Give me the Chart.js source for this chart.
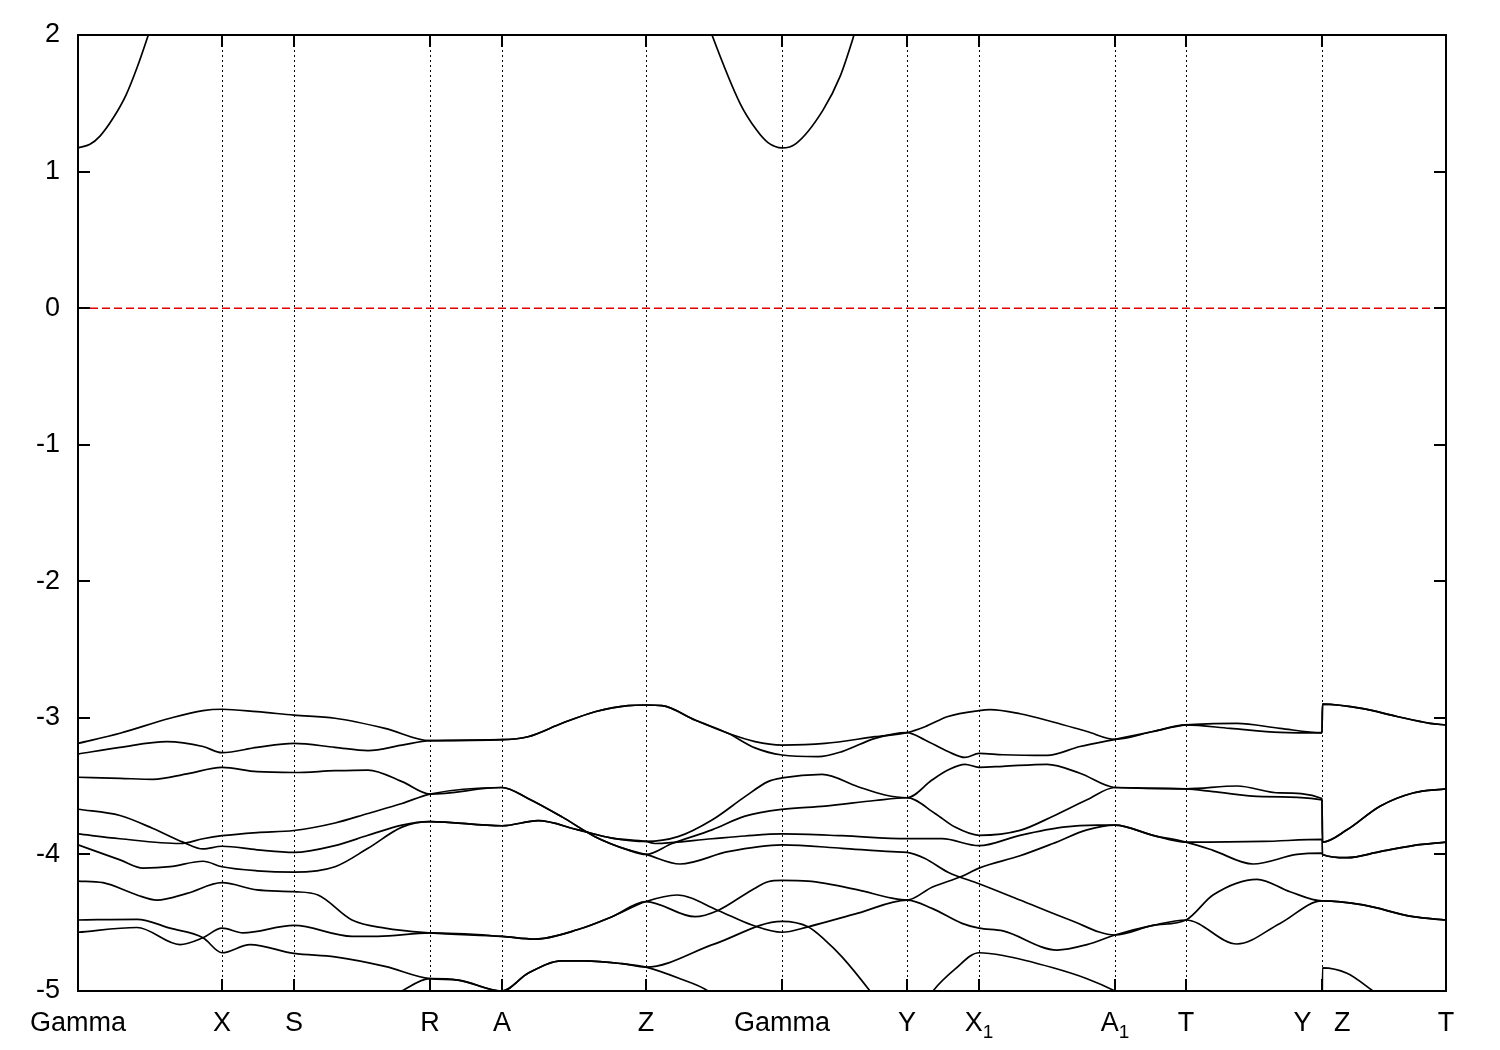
<!DOCTYPE html>
<html>
<head>
<meta charset="utf-8">
<title>Band structure</title>
<script src="https://cdn.jsdelivr.net/npm/chart.js@4.4.0/dist/chart.umd.min.js"></script>
<style>
	body { margin: 0; background: #fff; }
	#cont_graf { width: 1500px; height: 1050px; }
</style>
</head>
<body>
<div id="cont_graf"><canvas id="canvas01" width="1500" height="1050"></canvas></div>
<script>

// high symmetry points along the k path ("_1" = subscript)
const kNodes = [0, 144, 216, 352, 424, 568, 704, 829, 901, 1037, 1108, 1244, 1368];
const kLabels = ['Gamma', 'X', 'S', 'R', 'A', 'Z', 'Gamma', 'Y', 'X_1', 'A_1', 'T', 'Y   Z', 'T'];
const yTicks = [-5, -4, -3, -2, -1, 0, 1, 2];

// conduction band (two visible pieces)
const cband01 = [[0, 1.173], [12, 1.20], [22, 1.26], [35, 1.39], [48, 1.56], [59, 1.76], [70.3, 2.0], [80, 2.22]];
const cband02 = [[615, 2.4], [634, 2.0], [662, 1.50], [679, 1.30], [690, 1.212], [704, 1.173], [718, 1.205], [745, 1.45], [762, 1.695], [776, 2.0], [792, 2.4]];

// valence bands
const vband01 = [[0, -3.187], [42, -3.113], [92, -3.003], [125, -2.947], [144, -2.937], [179, -2.955], [216, -2.98], [257, -3.003], [307, -3.077], [352, -3.167], [424, -3.16], [450, -3.138], [484, -3.04], [517, -2.955], [550, -2.91], [568, -2.906], [584, -2.91], [617, -3.016], [650, -3.113], [677, -3.174], [704, -3.199], [747, -3.187], [797, -3.138], [829, -3.108], [847, -3.065], [870, -2.99], [901, -2.947], [912, -2.94], [942, -2.97], [975, -3.03], [1009, -3.10], [1037, -3.157], [1075, -3.10], [1108, -3.052], [1159, -3.04], [1202, -3.077], [1244, -3.108], [1244.5, -2.90], [1285, -2.933], [1319, -2.99], [1352, -3.04], [1368, -3.052]];
const vband02 = [[0, -3.265], [42, -3.216], [89, -3.174], [125, -3.21], [144, -3.255], [179, -3.216], [216, -3.187], [257, -3.216], [290, -3.24], [324, -3.20], [352, -3.167], [424, -3.16], [450, -3.138], [484, -3.04], [517, -2.955], [550, -2.91], [568, -2.906], [584, -2.91], [617, -3.016], [650, -3.113], [677, -3.22], [704, -3.272], [740, -3.284], [764, -3.247], [797, -3.15], [829, -3.108], [847, -3.162], [870, -3.247], [887, -3.29], [901, -3.26], [925, -3.27], [969, -3.275], [1002, -3.21], [1037, -3.157], [1075, -3.10], [1108, -3.052], [1152, -3.077], [1202, -3.106], [1244, -3.11], [1244.5, -2.90], [1285, -2.933], [1319, -2.99], [1352, -3.04], [1368, -3.052]];
const vband03 = [[0, -3.435], [42, -3.443], [75, -3.45], [109, -3.41], [144, -3.362], [179, -3.394], [216, -3.40], [257, -3.387], [290, -3.382], [324, -3.467], [352, -3.558], [424, -3.51], [450, -3.59], [484, -3.725], [517, -3.87], [550, -3.967], [568, -4.0], [594, -3.92], [634, -3.82], [667, -3.72], [704, -3.67], [747, -3.647], [797, -3.605], [829, -3.585], [857, -3.70], [877, -3.80], [901, -3.86], [942, -3.824], [975, -3.72], [1009, -3.60], [1037, -3.51], [1075, -3.516], [1108, -3.52], [1135, -3.54], [1185, -3.577], [1244, -3.60], [1244.5, -3.91], [1269, -3.82], [1302, -3.647], [1335, -3.55], [1368, -3.52]];
const vband04 = [[0, -3.669], [42, -3.715], [75, -3.81], [105, -3.91], [125, -3.96], [144, -3.94], [179, -3.966], [216, -3.985], [257, -3.935], [290, -3.86], [324, -3.785], [352, -3.76], [424, -3.79], [460, -3.753], [500, -3.82], [534, -3.88], [568, -3.905], [600, -3.87], [634, -3.748], [667, -3.577], [690, -3.467], [704, -3.44], [744, -3.414], [780, -3.504], [807, -3.565], [829, -3.585], [854, -3.455], [870, -3.382], [887, -3.34], [901, -3.362], [925, -3.355], [969, -3.34], [1002, -3.406], [1037, -3.51], [1075, -3.516], [1108, -3.52], [1159, -3.499], [1202, -3.55], [1244, -3.59], [1244.5, -3.91], [1269, -3.82], [1302, -3.647], [1335, -3.55], [1368, -3.52]];
const vband05 = [[0, -3.85], [42, -3.885], [102, -3.92], [125, -3.885], [144, -3.863], [179, -3.84], [216, -3.825], [257, -3.77], [290, -3.70], [324, -3.627], [352, -3.558], [424, -3.51], [450, -3.59], [484, -3.725], [517, -3.87], [550, -3.967], [568, -4.0], [602, -4.07], [650, -3.98], [704, -3.93], [764, -3.955], [814, -3.98], [829, -3.985], [847, -4.03], [870, -4.13], [901, -4.215], [942, -4.334], [992, -4.48], [1037, -4.59], [1075, -4.52], [1108, -4.48], [1135, -4.297], [1179, -4.182], [1212, -4.273], [1244, -4.34], [1244.5, -4.34], [1285, -4.37], [1335, -4.456], [1368, -4.48]];
const vband06 = [[0, -3.93], [42, -4.04], [65, -4.10], [92, -4.09], [125, -4.05], [144, -4.09], [179, -4.12], [216, -4.13], [257, -4.09], [290, -3.955], [324, -3.80], [352, -3.76], [424, -3.79], [460, -3.753], [500, -3.82], [534, -3.88], [568, -3.905], [577, -3.92], [634, -3.885], [667, -3.865], [704, -3.85], [764, -3.863], [829, -3.885], [864, -3.885], [901, -3.936], [942, -3.86], [985, -3.80], [1019, -3.785], [1037, -3.785], [1075, -3.86], [1108, -3.91], [1185, -3.905], [1244, -3.89], [1244.5, -4.0], [1269, -4.024], [1302, -3.98], [1335, -3.935], [1368, -3.91]];
const vband07 = [[0, -4.195], [25, -4.207], [59, -4.297], [79, -4.334], [109, -4.285], [144, -4.207], [179, -4.26], [216, -4.273], [240, -4.297], [274, -4.48], [307, -4.54], [352, -4.575], [424, -4.60], [457, -4.62], [500, -4.55], [534, -4.456], [568, -4.345], [599, -4.297], [640, -4.41], [674, -4.517], [704, -4.57], [730, -4.53], [780, -4.43], [829, -4.334], [854, -4.395], [884, -4.505], [901, -4.54], [925, -4.56], [979, -4.70], [1009, -4.66], [1037, -4.59], [1075, -4.52], [1108, -4.48], [1159, -4.656], [1202, -4.505], [1244, -4.34], [1244.5, -4.34], [1285, -4.37], [1335, -4.456], [1368, -4.48]];
const vband08 = [[0, -4.48], [59, -4.475], [92, -4.54], [125, -4.61], [144, -4.72], [172, -4.66], [216, -4.725], [257, -4.75], [307, -4.82], [352, -4.91], [380, -4.92], [424, -5.0], [450, -4.87], [484, -4.78], [507, -4.78], [544, -4.80], [568, -4.825], [636, -4.657], [704, -4.49], [730, -4.53], [747, -4.627], [764, -4.75], [792, -5.0], [812, -5.2], [829, -5.3], [855, -5.0], [877, -4.84], [901, -4.72], [925, -4.74], [975, -4.83], [1009, -4.91], [1037, -5.0], [1108, -5.3], [1244, -5.4], [1244.5, -4.83], [1269, -4.87], [1295, -5.0], [1368, -5.4]];
const vband09 = [[0, -4.57], [59, -4.535], [102, -4.66], [125, -4.61], [144, -4.54], [165, -4.575], [216, -4.52], [274, -4.60], [300, -4.60], [352, -4.575], [424, -4.60], [457, -4.62], [500, -4.55], [534, -4.456], [568, -4.345], [617, -4.456], [640, -4.41], [674, -4.26], [690, -4.2], [704, -4.19], [730, -4.195], [780, -4.26], [814, -4.32], [829, -4.334], [854, -4.24], [884, -4.16], [901, -4.1], [942, -4.01], [975, -3.92], [1009, -3.82], [1037, -3.785], [1075, -3.86], [1108, -3.91], [1135, -3.97], [1175, -4.07], [1219, -4.0], [1244, -3.99], [1244.5, -4.0], [1269, -4.024], [1302, -3.98], [1335, -3.935], [1368, -3.91]];
const vband10 = [[0, -5.6], [144, -5.6], [216, -5.5], [302, -5.1], [324, -5.0], [352, -4.91], [380, -4.92], [424, -5.0], [450, -4.87], [484, -4.78], [507, -4.78], [544, -4.80], [568, -4.825], [602, -4.91], [630, -5.0], [660, -5.2], [704, -5.4], [829, -5.5], [901, -5.5], [1037, -5.2], [1108, -5.4], [1244, -5.5], [1244.5, -5.5], [1368, -5.5]];

const fermiLevel = [[0, 0], [1368, 0]];

const allBands = [cband01, cband02, vband01, vband02, vband03, vband04, vband05, vband06, vband07, vband08, vband09, vband10];

const fontFam = '"Liberation Sans", Arial, sans-serif';

const frameAxes = {
	id: 'frameAxes',
	beforeDatasetsDraw(chart, args, options) {
		const { ctx, chartArea: { left, top, right, bottom }, scales: { x } } = chart;

		// dotted lines on the symmetry points
		ctx.save();
		ctx.strokeStyle = '#000';
		ctx.lineWidth = 1;
		ctx.setLineDash([2, 3]);
		for (var i = 1; i < kNodes.length - 1; i++) {
			var px = Math.round(x.getPixelForValue(kNodes[i])) + 0.5;
			ctx.beginPath();
			ctx.moveTo(px, top);
			ctx.lineTo(px, bottom);
			ctx.stroke();
		}
		ctx.restore();
	},
	afterDatasetsDraw(chart, args, options) {
		const { ctx, chartArea: { left, top, right, bottom }, scales: { x, y } } = chart;
		var tl = options.tickLen;

		ctx.save();
		ctx.strokeStyle = '#000';
		ctx.lineWidth = 2;
		ctx.beginPath();

		// inward ticks on all four sides
		yTicks.forEach(function (v) {
			var py = Math.round(y.getPixelForValue(v));
			ctx.moveTo(left, py); ctx.lineTo(left + tl, py);
			ctx.moveTo(right, py); ctx.lineTo(right - tl, py);
		});
		kNodes.forEach(function (k) {
			var px = Math.round(x.getPixelForValue(k));
			ctx.moveTo(px, bottom); ctx.lineTo(px, bottom - tl);
			ctx.moveTo(px, top); ctx.lineTo(px, top + tl);
		});
		ctx.stroke();
		ctx.strokeRect(left, top, right - left, bottom - top);

		// k point labels, with subscripts
		var fMain = options.labelSize + 'px ' + fontFam;
		var fSub = options.subSize + 'px ' + fontFam;
		var base_y = bottom + options.labelDrop;
		ctx.fillStyle = '#000';
		ctx.textBaseline = 'alphabetic';
		ctx.textAlign = 'left';
		kLabels.forEach(function (lab, i) {
			var px = x.getPixelForValue(kNodes[i]);
			var parts = lab.split('_');
			ctx.font = fMain;
			var w1 = ctx.measureText(parts[0]).width;
			var w2 = 0;
			if (parts.length > 1) {
				ctx.font = fSub;
				w2 = ctx.measureText(parts[1]).width;
			}
			var x0 = px - (w1 + w2) / 2;
			ctx.font = fMain;
			ctx.fillText(parts[0], x0, base_y);
			if (parts.length > 1) {
				ctx.font = fSub;
				ctx.fillText(parts[1], x0 + w1, base_y + options.subDrop);
			}
		});
		ctx.restore();
	}
};

var graf_bandas = null;

function GrafBandas() {
	if (graf_bandas != null) { graf_bandas.destroy(); }

	var datasets = allBands.map(function (b) {
		return {
			data: b.map(function (p) { return { x: p[0], y: p[1] }; }),
			borderColor: '#000',
			borderWidth: 1.7,
			pointRadius: 0,
			fill: false,
			cubicInterpolationMode: 'monotone',
		};
	});

	datasets.push({
		data: fermiLevel.map(function (p) { return { x: p[0], y: p[1] }; }),
		borderColor: '#e00000',
		borderWidth: 1.5,
		borderDash: [8, 4],
		pointRadius: 0,
		fill: false,
	});

	var config01 = {
		type: 'line',
		data: { datasets: datasets },
		options: {
			responsive: false,
			animation: false,
			layout: {
				padding: { top: 35, right: 54, bottom: 0, left: 0 }
			},
			plugins: {
				legend: { display: false },
				tooltip: { enabled: false },
				title: { display: false },
				frameAxes: { tickLen: 12, labelSize: 27, subSize: 19, labelDrop: 40, subDrop: 7 }
			},
			scales: {
				x: {
					type: 'linear',
					min: 0,
					max: 1368,
					grid: { display: false },
					border: { display: false },
					afterBuildTicks: function (scale) {
						scale.ticks = kNodes.map(function (k) { return { value: k }; });
					},
					afterFit: function (scale) {
						scale.height = 59;
						scale.paddingLeft = 0;
						scale.paddingRight = 0;
					},
					ticks: { display: false }
				},
				y: {
					type: 'linear',
					min: -5,
					max: 2,
					grid: { display: false },
					border: { display: false },
					afterFit: function (scale) {
						scale.width = 78;
						scale.paddingTop = 0;
						scale.paddingBottom = 0;
					},
					ticks: {
						stepSize: 1,
						padding: 10,
						color: '#000',
						font: { family: fontFam, size: 27 }
					}
				}
			}
		},
		plugins: [frameAxes]
	};

	var ctx01 = document.getElementById('canvas01').getContext('2d');
	graf_bandas = new Chart(ctx01, config01);
}

GrafBandas();

</script>
</body>
</html>
